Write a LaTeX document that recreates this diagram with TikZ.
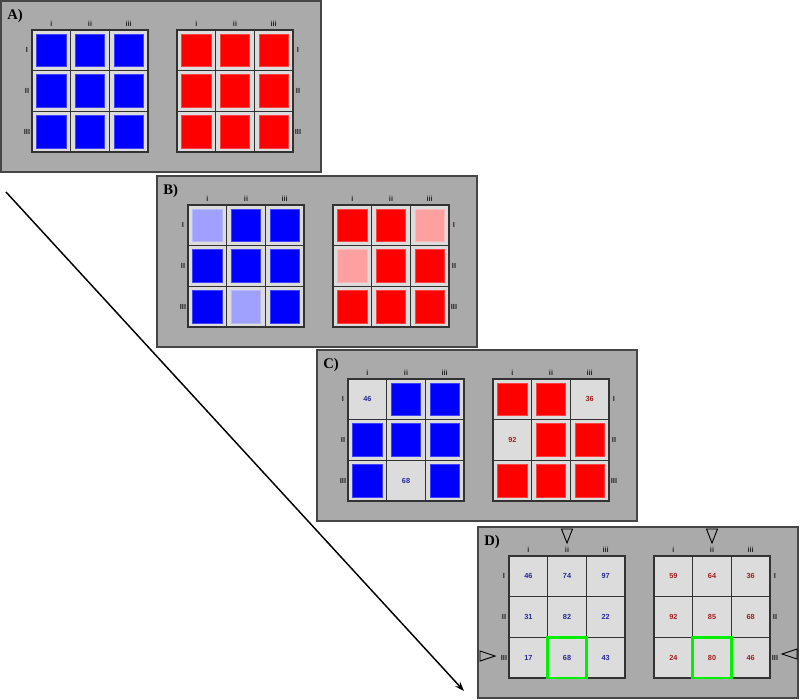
\documentclass[tikz,border=0pt]{standalone}
\usepackage{fontspec}
\setmainfont{Liberation Serif}
\newfontfamily\lblfont{Liberation Sans}
\usetikzlibrary{arrows.meta}
\definecolor{panelgray}{RGB}{170,170,170}
\definecolor{panelborder}{RGB}{70,70,70}
\definecolor{cellgray}{RGB}{220,220,220}
\definecolor{gridline}{RGB}{50,50,50}
\definecolor{sqblue}{RGB}{0,0,255}
\definecolor{sqbluefade}{RGB}{160,160,255}
\definecolor{sqred}{RGB}{255,0,0}
\definecolor{sqredfade}{RGB}{255,160,160}
\definecolor{numblue}{RGB}{40,40,150}
\definecolor{numred}{RGB}{160,30,30}
\definecolor{hlgreen}{RGB}{0,240,0}
\tikzset{
  panelbox/.style={draw=panelborder,fill=panelgray,line width=1pt,minimum width=240pt,minimum height=128.25pt,inner sep=0pt,outer sep=0pt},
  plabel/.style={anchor=west,font=\bfseries\fontsize{11}{12}\selectfont,inner sep=0pt},
  rlab/.style={font=\lblfont\bfseries\fontsize{5.5}{6.5}\selectfont,text=black!85,inner sep=0pt},
  cellbox/.style={draw=gridline,fill=cellgray,line width=0.8pt,minimum width=29pt,minimum height=30.5pt,inner sep=0pt,outer sep=0pt},
  sqbox/.style={line width=0.5pt,minimum width=22pt,minimum height=24.5pt,inner sep=0pt},
  numtxt/.style={font=\lblfont\bfseries\fontsize{5.5}{6.5}\selectfont,inner sep=0pt},
  hl/.style={draw=hlgreen,line width=1.8pt},
  tri/.style={draw=black,line width=0.7pt,line join=miter},
  arr/.style={draw=black,line width=1.1pt,-{Stealth[length=7pt,width=5pt]}}
}
\newcommand\drawpanel[4]{%
  \node[panelbox] (#1) at (#2+160,#3+85.5) {};
  \node[plabel] (#1lab) at (#2+6,#3+15) {#4};
  \foreach \g/\gx in {L/31,R/176}{
    \foreach \c/\t in {1/i,2/ii,3/iii}{
      \node[rlab] (#1\g c\c) at (#2+\gx+\c*38.667-19.333,#3+23) {\t};
    }
    \foreach \r in {1,2,3}{
      \foreach \c in {1,2,3}{
        \node[cellbox] (#1\g\r\c) at (#2+\gx+\c*38.667-19.333,#3+29+\r*40.667-20.333) {};
      }
    }
  }
  \foreach \r/\t in {1/I,2/II,3/III}{
    \node[rlab] (#1rl\r) at (#2+26,#3+29+\r*40.667-20.333) {\t};
    \node[rlab] (#1rr\r) at (#2+297,#3+29+\r*40.667-20.333) {\t};
  }
}
\newcommand\sqcell[2]{\node[sqbox,fill=#2,draw=#2!75!white] (#1s) at (#1) {};}
\newcommand\numcell[3]{\node[numtxt,text=#2] (#1n) at (#1) {#3};}
\begin{document}
\begin{tikzpicture}[x=0.75pt,y=-0.75pt]
\fill[white] (0,0) rectangle (800,700);
\useasboundingbox (0,0) rectangle (800,700);

% Panel A
\drawpanel{A}{1}{1}{A)}
\foreach \r in {1,2,3}{\foreach \c in {1,2,3}{
  \sqcell{AL\r\c}{sqblue}
  \sqcell{AR\r\c}{sqred}
}}

% Panel B
\drawpanel{B}{157}{176}{B)}
\foreach \rc in {12,13,21,22,23,31,33}{\sqcell{BL\rc}{sqblue}}
\foreach \rc in {11,32}{\sqcell{BL\rc}{sqbluefade}}
\foreach \rc in {11,12,22,23,31,32,33}{\sqcell{BR\rc}{sqred}}
\foreach \rc in {13,21}{\sqcell{BR\rc}{sqredfade}}

% Panel C
\drawpanel{C}{317}{350}{C)}
\foreach \rc in {12,13,21,22,23,31,33}{\sqcell{CL\rc}{sqblue}}
\numcell{CL11}{numblue}{46}
\numcell{CL32}{numblue}{68}
\foreach \rc in {11,12,22,23,31,32,33}{\sqcell{CR\rc}{sqred}}
\numcell{CR13}{numred}{36}
\numcell{CR21}{numred}{92}

% Panel D
\drawpanel{D}{478}{527}{D)}
\foreach \rc/\v in {11/46,12/74,13/97,21/31,22/82,23/22,31/17,32/68,33/43}{\numcell{DL\rc}{numblue}{\v}}
\foreach \rc/\v in {11/59,12/64,13/36,21/92,22/85,23/68,31/24,32/80,33/46}{\numcell{DR\rc}{numred}{\v}}
\draw[hl] (DL32.north west) rectangle (DL32.south east);
\draw[hl] (DR32.north west) rectangle (DR32.south east);
% pointer triangles
\draw[tri] (561.5,529) -- (572.5,529) -- (567,543) -- cycle;
\draw[tri] (706.5,529) -- (717.5,529) -- (712,543) -- cycle;
\draw[tri] (480,651) -- (495,656) -- (480,661) -- cycle;
\draw[tri] (797,649) -- (782,654) -- (797,659) -- cycle;

% long arrow
\coordinate (astart) at (6,192);
\coordinate (aend) at (464,691);
\draw[arr] (astart) -- (aend);
\end{tikzpicture}
\end{document}
